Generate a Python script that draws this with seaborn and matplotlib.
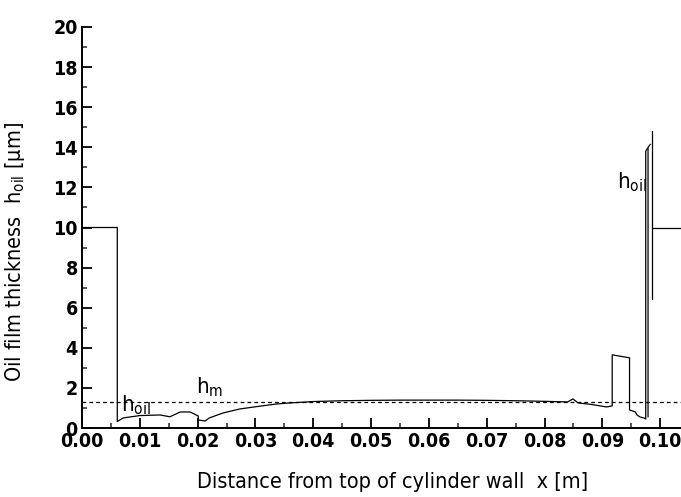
import matplotlib
matplotlib.use("Agg")
import matplotlib.pyplot as plt
import seaborn as sns
import pandas as pd
from matplotlib.ticker import MultipleLocator, FormatStrFormatter

# ---- data ----
x_main = [0.0, 0.0061, 0.0061, 0.0071, 0.0100, 0.0135, 0.0152, 0.0170, 0.0187,
          0.0201, 0.0201, 0.0213, 0.0220, 0.0244, 0.0273, 0.0303, 0.0337, 0.0360,
          0.0400, 0.0450, 0.0500, 0.0550, 0.0600, 0.0650, 0.0700, 0.0750, 0.0800,
          0.0840, 0.0849, 0.0858, 0.0880, 0.0907, 0.0917, 0.0917, 0.0947, 0.0947,
          0.0957, 0.0960, 0.0965, 0.0972, 0.0975, 0.0975, 0.0978]
h_main = [10.0, 10.0, 0.32, 0.50, 0.62, 0.65, 0.56, 0.80, 0.80,
          0.60, 0.40, 0.35, 0.50, 0.75, 0.95, 1.07, 1.20, 1.25,
          1.32, 1.36, 1.38, 1.39, 1.39, 1.39, 1.38, 1.36, 1.33,
          1.30, 1.45, 1.25, 1.18, 1.05, 1.10, 3.65, 3.50, 0.90,
          0.80, 0.65, 0.55, 0.50, 0.45, 13.80, 13.95]
x_spike = [0.0979, 0.0979, 0.0983]
h_spike = [0.55, 14.00, 14.15]
x_inlet = [0.0985, 0.0985]
h_inlet = [14.8, 6.45]
x_level = [0.0985, 0.1040]
h_level = [10.0, 10.0]
h_mean = 1.3

xticks = [0.00, 0.01, 0.02, 0.03, 0.04, 0.05, 0.06, 0.07, 0.08, 0.09, 0.10]
yticks = [0, 2, 4, 6, 8, 10, 12, 14, 16, 18, 20]

sns.set_theme(style="ticks")
plt.rcParams['font.family'] = ['DejaVu Sans']
plt.rcParams['font.stretch'] = 'condensed'
plt.rcParams['mathtext.fontset'] = 'custom'
plt.rcParams['mathtext.rm'] = 'DejaVu Sans:stretch=condensed'

fig = plt.figure(figsize=(6.81, 4.97), dpi=100)
ax = fig.add_axes([82/681, 1 - 428/497, 1 - 82/681, (428 - 27)/497])

segs = [("main", x_main, h_main), ("spike", x_spike, h_spike),
        ("inlet", x_inlet, h_inlet), ("level", x_level, h_level)]
for name, xs, hs in segs:
    df = pd.DataFrame({"x": xs, "h": hs})
    sns.lineplot(data=df, x="x", y="h", sort=False, estimator=None,
                 color="black", linewidth=0.9, ax=ax)

ax.axhline(h_mean, color="black", linewidth=0.9, linestyle=(0, (3, 2.5)))

ax.set_xlim(0, 0.1036)
ax.set_ylim(0, 20)
ax.set_xticks(xticks)
ax.set_yticks(yticks)
ax.xaxis.set_major_formatter(FormatStrFormatter('%.2f'))
ax.xaxis.set_minor_locator(MultipleLocator(0.005))
ax.yaxis.set_minor_locator(MultipleLocator(1))
ax.tick_params(which='major', direction='in', length=7, width=1.3, labelsize=14,
               colors='black', pad=3)
ax.tick_params(which='minor', direction='in', length=3.5, width=1.1)
for lab in ax.get_xticklabels() + ax.get_yticklabels():
    lab.set_fontweight('bold')

sns.despine(ax=ax)
ax.spines['left'].set_linewidth(1.4)
ax.spines['bottom'].set_linewidth(1.4)
ax.spines['left'].set_color('black')
ax.spines['bottom'].set_color('black')

ax.set_xlabel("Distance from top of cylinder wall  x [m]", fontsize=15.5,
              color='black')
ax.set_ylabel(r"Oil film thickness  h$_{\mathregular{oil}}$ [$\mathregular{\mu}$m]",
              fontsize=15.5, color='black')
ax.xaxis.set_label_coords(0.518, -0.11)
ax.yaxis.set_label_coords(-0.092, 0.44)

ax.text(0.0068, 0.85, r"h$_{\mathregular{oil}}$", fontsize=16, color='black')
ax.text(0.0198, 1.75, r"h$_{\mathregular{m}}$", fontsize=16, color='black')
ax.text(0.0925, 11.95, r"h$_{\mathregular{oil}}$", fontsize=16, color='black')

fig.savefig("out.png", dpi=100)
